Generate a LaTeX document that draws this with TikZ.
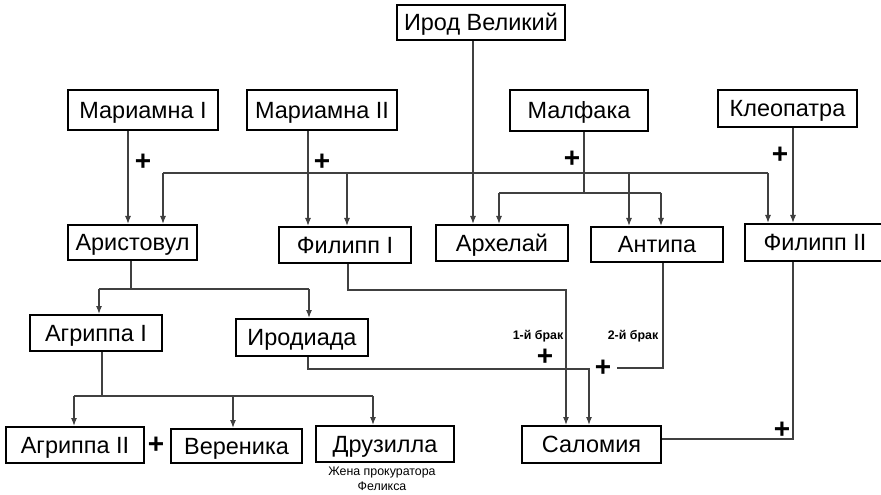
\documentclass[tikz,border=0pt]{standalone}
\usepackage{fontspec}
\setmainfont{Liberation Sans}
\usetikzlibrary{positioning, arrows.meta}

\begin{document}
\begin{tikzpicture}[x=0.75pt,y=0.75pt,yscale=-1,xscale=1,
  person/.style={draw, line width=1.5pt, inner sep=0pt, text height=12.6pt, text depth=0pt,
    font=\fontsize{17.6}{20}\selectfont},
  link/.style={draw=black!75, line width=0.9pt},
  arr/.style={link, -{Latex[length=6pt,width=4.5pt]}},
  plus/.style={inner sep=0pt, font=\fontsize{21}{24}\selectfont\bfseries},
  note/.style={inner sep=0pt, font=\fontsize{9.3}{11}\selectfont}]
\useasboundingbox (0,0) rectangle (881,495);

% Top row
\node[person, minimum width=126pt, minimum height=26.25pt] (irod) at (481,22.5) {Ирод Великий};
\node[person, minimum width=112.5pt, minimum height=30pt] (mar1) at (143,110) {Мариамна I};
\node[person, minimum width=112.5pt, minimum height=30pt] (mar2) at (322,110) {Мариамна II};
\node[person, minimum width=103.5pt, minimum height=30.75pt] (malf) at (579,110.5) {Малфака};
\node[person, minimum width=104.25pt, minimum height=27.75pt] (kleo) at (787.5,108.5) {Клеопатра};

% Sons
\node[person, minimum width=96.75pt, minimum height=26.25pt] (arist) at (132.5,242.5) {Аристовул};
\node[person, minimum width=99pt, minimum height=27pt] (fil1) at (345,245) {Филипп I};
\node[person, minimum width=99pt, minimum height=27pt] (arhel) at (502,243) {Архелай};
\node[person, minimum width=99pt, minimum height=26.25pt] (antipa) at (657,244.5) {Антипа};
\node[person, minimum width=105pt, minimum height=27.75pt] (fil2) at (815,242.5) {Филипп II};

% Grandchildren
\node[person, minimum width=99pt, minimum height=27pt] (agr1) at (96,333) {Агриппа I};
\node[person, minimum width=99pt, minimum height=27.75pt] (irodiada) at (302,337.5) {Иродиада};

% Bottom row
\node[person, minimum width=103.5pt, minimum height=27pt] (agr2) at (75,445) {Агриппа II};
\node[person, minimum width=98.25pt, minimum height=25.5pt] (veren) at (236.5,446) {Вереника};
\node[person, minimum width=103.5pt, minimum height=27pt] (druz) at (385,444) {Друзилла};
\node[person, minimum width=104.25pt, minimum height=27.75pt] (salom) at (591.5,444.5) {Саломия};
\node[note, align=center] (druznote) at (382,479) {Жена прокуратора\\Феликса};

% Junctions
\coordinate (m1) at (128,173);
\coordinate (m2) at (308,173);
\coordinate (busW) at (163,173);
\coordinate (bus2) at (347,173);
\coordinate (irx) at (473,173);
\coordinate (bus3) at (629,173);
\coordinate (busE) at (768,173);
\coordinate (mf) at (584,193);
\coordinate (mfW) at (499,193);
\coordinate (mfE) at (661,193);
\coordinate (kl) at (793,173);
\coordinate (ar) at (131,289);
\coordinate (arW) at (99,289);
\coordinate (arE) at (309,289);
\coordinate (f1) at (348,290);
\coordinate (f1E) at (566,290);
\coordinate (ird) at (308,369);
\coordinate (irdE) at (589,369);
\coordinate (an) at (663,368);
\coordinate (anW) at (617,368);
\coordinate (f2) at (793,439);
\coordinate (a1) at (102,396);
\coordinate (a1W) at (74,396);
\coordinate (a1M) at (233,396);
\coordinate (a1E) at (373,396);

% Herod and the wives
\draw[arr] (irx |- irod.south) -- (irx |- arhel.north);
\draw[link] (busW) -- (busE);
\draw[arr] (busW) -- (busW |- arist.north);
\draw[arr] (bus2) -- (bus2 |- fil1.north);
\draw[arr] (bus3) -- (bus3 |- antipa.north);
\draw[arr] (busE) -- (busE |- fil2.north);
\draw[arr] (m1 |- mar1.south) -- (m1 |- arist.north);
\draw[arr] (m2 |- mar2.south) -- (m2 |- fil1.north);
\draw[link] (mf |- malf.south) -- (mf);
\draw[link] (mfW) -- (mfE);
\draw[arr] (mfW) -- (mfW |- arhel.north);
\draw[arr] (mfE) -- (mfE |- antipa.north);
\draw[arr] (kl |- kleo.south) -- (kl |- fil2.north);

% Aristobulus
\draw[link] (ar |- arist.south) -- (ar);
\draw[link] (arW) -- (arE);
\draw[arr] (arW) -- (arW |- agr1.north);
\draw[arr] (arE) -- (arE |- irodiada.north);

% Salome
\draw[arr] (f1 |- fil1.south) -- (f1) -- (f1E) -- (f1E |- salom.north);
\draw[arr] (ird |- irodiada.south) -- (ird) -- (irdE) -- (irdE |- salom.north);
\draw[link] (an |- antipa.south) -- (an) -- (anW);
\draw[link] (f2 |- fil2.south) -- (f2) -- (salom.east |- f2);

% Agrippa I
\draw[link] (a1 |- agr1.south) -- (a1);
\draw[link] (a1W) -- (a1E);
\draw[arr] (a1W) -- (a1W |- agr2.north);
\draw[arr] (a1M) -- (a1M |- veren.north);
\draw[arr] (a1E) -- (a1E |- druz.north);

% Marriage marks
\node[plus] (plus1) at (143,162) {+};
\node[plus] (plus2) at (322,162) {+};
\node[plus] (plus3) at (572,159) {+};
\node[plus] (plus4) at (780,155) {+};
\node[plus] (plus5) at (545,357) {+};
\node[plus] (plus6) at (603,368) {+};
\node[plus] (plus7) at (782,430) {+};
\node[plus] (plus8) at (156,445) {+};
\node[note, font=\fontsize{9.3}{11}\selectfont\bfseries] (brak1) at (538,336) {1-й брак};
\node[note, font=\fontsize{9.3}{11}\selectfont\bfseries] (brak2) at (633,336) {2-й брак};

\end{tikzpicture}
\end{document}
